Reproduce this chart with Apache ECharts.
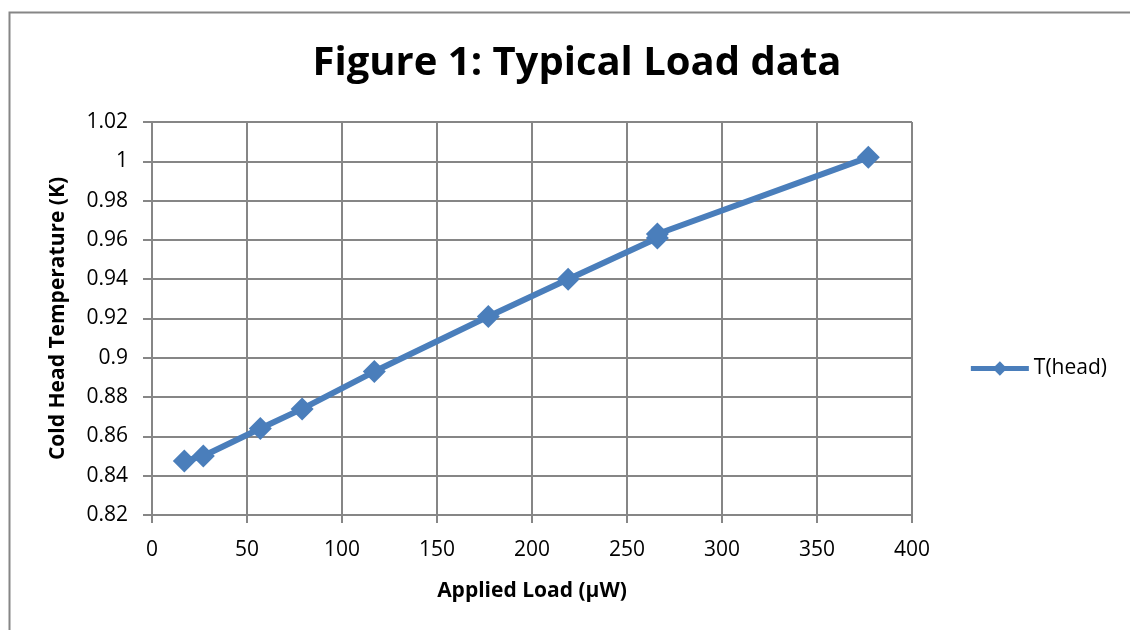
<!DOCTYPE html>
<html><head><meta charset="utf-8">
<script src="https://cdn.jsdelivr.net/npm/echarts@6/dist/echarts.min.js"></script>
<style>html,body{margin:0;padding:0;background:#fff}#c{width:1130px;height:630px}</style>
</head><body><div id="c"></div>
<script>
const loads = [17, 27, 57, 79, 117, 177, 219, 266, 266, 377];
const temps = [0.8475, 0.850, 0.864, 0.874, 0.893, 0.921, 0.940, 0.961, 0.963, 1.002];
const seriesName = 'T(head)';
const title = 'Figure 1: Typical Load data';
const xName = 'Applied Load (µW)';
const yName = 'Cold Head Temperature (K)';

const font = '"Open Sans", "Liberation Sans", sans-serif';
const chart = echarts.init(document.getElementById('c'));
chart.setOption({
  animation: false,
  backgroundColor: '#fff',
  graphic: [{type:'rect', left:7, top:10, shape:{width:1300,height:800}, style:{fill:'none', stroke:'#868686', lineWidth:2}, silent:true}],
  title: {text: title, left: 572, top: 39, textAlign: 'center',
    textStyle: {fontFamily: font, fontSize: 40, fontWeight: 'bold', color: '#000'}},
  grid: {left: 152, right: 218, top: 122, bottom: 115},
  legend: {right: 18, top: 353, itemWidth: 58, itemHeight: 18, itemGap: 6, data:[{name: seriesName}],
    lineStyle: {width: 5},
    textStyle: {fontFamily: font, fontSize: 21, color: '#000'}},
  xAxis: {type:'value', min:0, max:400, interval:50, name:xName, nameLocation:'middle', nameGap:66,
    nameTextStyle:{fontFamily:font, fontSize:21, fontWeight:'bold', color:'#000'},
    axisLine:{lineStyle:{color:'#868686', width:2}}, axisTick:{show:true, length:8, lineStyle:{color:'#868686', width:2}},
    axisLabel:{fontFamily:font, fontSize:21, color:'#000', margin:25},
    splitLine:{lineStyle:{color:'#868686', width:2}}},
  yAxis: {type:'value', min:0.82, max:1.02, interval:0.02, name:yName, nameLocation:'middle', nameGap:83,
    nameTextStyle:{fontFamily:font, fontSize:21, fontWeight:'bold', color:'#000'},
    axisLine:{show:true, lineStyle:{color:'#868686', width:2}}, axisTick:{show:true, length:9, lineStyle:{color:'#868686', width:2}},
    axisLabel:{fontFamily:font, fontSize:21, color:'#000', margin:24, formatter: v => String(parseFloat(v.toFixed(2)))},
    splitLine:{lineStyle:{color:'#868686', width:2}}},
  series: [{name: seriesName, type:'line', data: loads.map((x,i)=>[x, temps[i]]),
    symbol:'diamond', symbolSize:23, color:'#4a7ebb',
    lineStyle:{width:6, color:'#4a7ebb'}, itemStyle:{color:'#4a7ebb'}}]
});
</script></body></html>
